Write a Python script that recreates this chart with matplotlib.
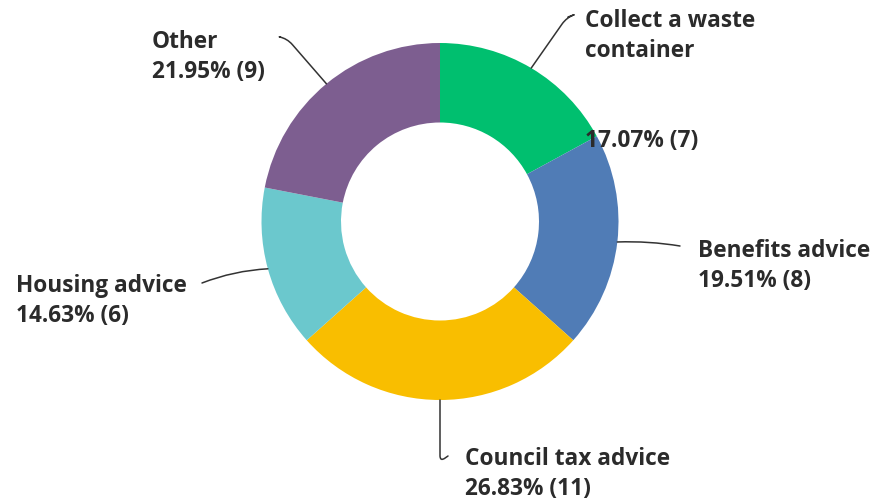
import matplotlib.pyplot as plt
import numpy as np

W, H = 873, 501

categories = ['Collect a waste container', 'Benefits advice', 'Council tax advice',
              'Housing advice', 'Other']
counts = [7, 8, 11, 6, 9]
colors = ['#00BF6F', '#507CB6', '#F9BE00', '#6BC8CD', '#7D5E90']

# label text placement in pixel coords (x, baseline of first line)
label_lines = [['Collect a waste', 'container', '', ''],
               ['Benefits advice'], ['Council tax advice'], ['Housing advice'], ['Other']]
label_pos = [(585, 27), (698, 257), (465, 465), (16, 292), (152, 48)]
# leader line end near the label, and how it bends
leader_end = [(568, 17), (680, 246), (448, 456), (202, 283), (280, 37)]
leader_style = ['angle,angleA=20,angleB=55,rad=8',
                'arc3,rad=0.05',
                'angle,angleA=35,angleB=90,rad=6',
                'arc3,rad=-0.08',
                'angle,angleA=-12,angleB=-49,rad=8']

cx, cy = 440, 221.5
R, width = 178.5, 79.5

fig = plt.figure(figsize=(W / 100, H / 100), dpi=100)
ax = fig.add_axes([0, 0, 1, 1])

ax.pie(counts, colors=colors, startangle=90, counterclock=False,
       center=(cx, H - cy), radius=R, frame=True,
       wedgeprops=dict(width=width, linewidth=0))
ax.set_xlim(0, W)
ax.set_ylim(0, H)
ax.set_aspect('equal')
ax.axis('off')

total = sum(counts)
txt = dict(family=['Open Sans', 'DejaVu Sans'], fontweight='bold',
           fontsize=16.3, color='#2b2b2b', va='baseline', ha='left')
cum = 0
for i, n in enumerate(counts):
    mid = (cum + n / 2) / total * 2 * np.pi
    cum += n
    px = cx + R * np.sin(mid)
    py = cy - R * np.cos(mid)
    ex, ey = leader_end[i]
    ax.annotate('', xy=(px, H - py), xytext=(ex, H - ey),
                arrowprops=dict(arrowstyle='-', color='#333333', lw=1.1,
                                shrinkA=0, shrinkB=0,
                                connectionstyle=leader_style[i]))
    lines = label_lines[i] + [f'{n / total * 100:.2f}% ({n})']
    x0, y0 = label_pos[i]
    for j, line in enumerate(lines):
        if line:
            ax.text(x0, H - (y0 + j * 30), line, **txt)

fig.savefig('out.png', dpi=100)
